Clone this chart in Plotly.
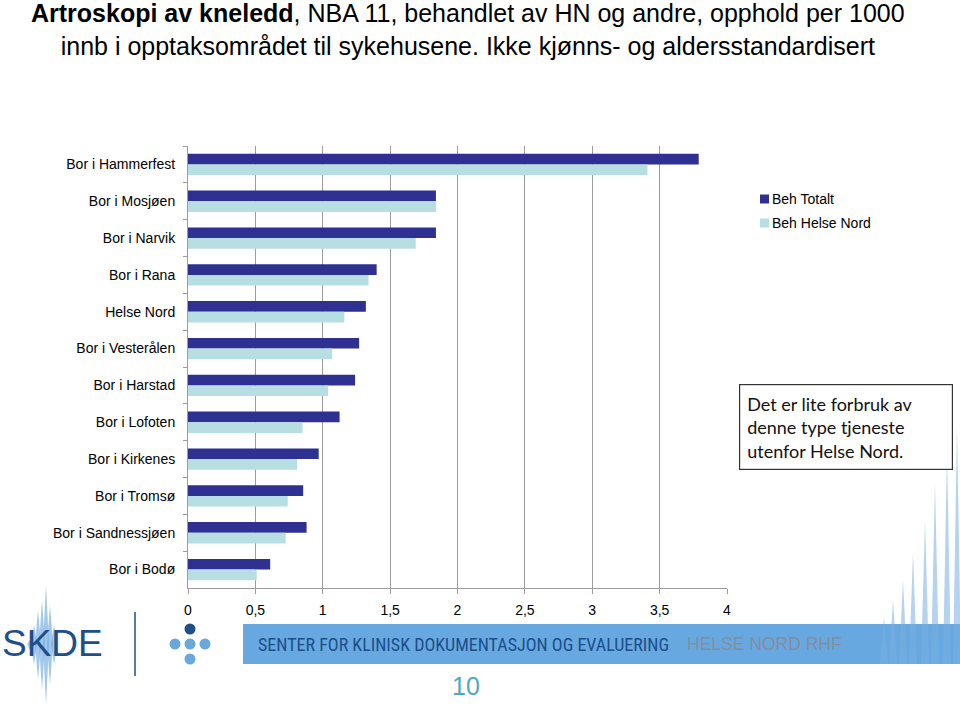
import plotly.graph_objects as go

categories = ["Bor i Hammerfest", "Bor i Mosjøen", "Bor i Narvik", "Bor i Rana", "Helse Nord",
              "Bor i Vesterålen", "Bor i Harstad", "Bor i Lofoten", "Bor i Kirkenes", "Bor i Tromsø",
              "Bor i Sandnessjøen", "Bor i Bodø"]
beh_totalt = [3.79, 1.84, 1.84, 1.40, 1.32, 1.27, 1.24, 1.125, 0.97, 0.855, 0.88, 0.61]
beh_helse_nord = [3.41, 1.84, 1.69, 1.34, 1.16, 1.07, 1.04, 0.85, 0.81, 0.74, 0.725, 0.51]
x_tickvals = [0, 0.5, 1, 1.5, 2, 2.5, 3, 3.5, 4]
x_ticktext = ["0", "0,5", "1", "1,5", "2", "2,5", "3", "3,5", "4"]
series_names = ["Beh Totalt", "Beh Helse Nord"]
series_colors = ["#2E3192", "#B7DEE3"]

W, H = 960, 707
L, R, T, B = 188, 727, 146, 588   # plot area in screen pixels

def px(x):
    return (x - L) / (R - L)

def py(y):
    return (B - y) / (B - T)

ARIAL = "Liberation Sans, Arial, sans-serif"

fig = go.Figure()
for name, vals, col in zip(series_names, [beh_totalt, beh_helse_nord], series_colors):
    fig.add_trace(go.Bar(y=categories, x=vals, orientation="h", name=name,
                         marker=dict(color=col, line=dict(width=0))))

shapes = []
annotations = []

# Title
annotations.append(dict(
    xref="paper", yref="paper", x=px(468), y=py(-3), xanchor="center", yanchor="top",
    text="<b>Artroskopi av kneledd</b>, NBA 11, behandlet av HN og andre, opphold per 1000<br>"
         "innb i opptaksområdet til sykehusene. Ikke kjønns- og aldersstandardisert",
    showarrow=False, font=dict(family=ARIAL, size=25, color="#000000"), align="center"))

# Manual legend
for i, (name, col) in enumerate(zip(series_names, series_colors)):
    yc = 199 + 24 * i
    shapes.append(dict(type="rect", xref="paper", yref="paper", x0=px(760), x1=px(769),
                       y0=py(yc + 4.5), y1=py(yc - 4.5), fillcolor=col, line=dict(width=0)))
    annotations.append(dict(xref="paper", yref="paper", x=px(770), y=py(yc), xanchor="left",
                            yanchor="middle", showarrow=False, text=name,
                            font=dict(family=ARIAL, size=14, color="#000000")))

# Text box
annotations.append(dict(
    xref="paper", yref="paper", x=px(739), y=py(384), xanchor="left", yanchor="top",
    text="Det er lite forbruk av<br>denne type tjeneste<br>utenfor Helse Nord.",
    showarrow=False, align="left", width=198, height=70, valign="middle",
    bordercolor="#333333", borderwidth=1.2, borderpad=7, bgcolor="white",
    font=dict(family="Lato, Open Sans, sans-serif", size=18, color="#111111")))

# Footer band
shapes.append(dict(type="rect", xref="paper", yref="paper", x0=px(243), x1=px(962),
                   y0=py(664), y1=py(624), fillcolor="#68A8E0", line=dict(width=0), layer="below"))
annotations.append(dict(xref="paper", yref="paper", x=px(256), y=py(644), xanchor="left",
                        yanchor="middle", showarrow=False,
                        text="SENTER FOR KLINISK DOKUMENTASJON OG EVALUERING",
                        font=dict(family="Liberation Sans Narrow, Roboto Condensed, Liberation Sans, sans-serif",
                                  size=18, color="#1B4F8A")))
annotations.append(dict(xref="paper", yref="paper", x=px(685), y=py(644), xanchor="left",
                        yanchor="middle", showarrow=False, text="HELSE NORD RHF",
                        font=dict(family=ARIAL, size=17.5, color="#848E9B")))

# Right decorative spikes
spikes = [(884, 617), (893, 600), (903, 580), (913, 553), (925, 520), (935, 483), (947, 453), (957, 427)]
for sx, tip in spikes:
    path = "M {} {} L {} {} L {} {} Z".format(px(sx - 4), py(664), px(sx), py(tip), px(sx + 4), py(664))
    shapes.append(dict(type="path", xref="paper", yref="paper", path=path,
                       fillcolor="rgba(120,175,225,0.55)", line=dict(width=0), layer="below"))

# SKDE logo spikes
logo_spikes = [(30, 640, 650), (34, 625, 665), (38, 610, 680), (42, 600, 690), (46, 585, 705), (50, 605, 685), (54, 625, 665)]
for sx, top, bot in logo_spikes:
    for tipy in (top, bot):
        path = "M {} {} L {} {} L {} {} Z".format(px(sx - 3), py(644), px(sx), py(tipy), px(sx + 3), py(644))
        shapes.append(dict(type="path", xref="paper", yref="paper", path=path,
                           fillcolor="rgba(100,165,220,0.6)", line=dict(width=0), layer="below"))
annotations.append(dict(xref="paper", yref="paper", x=px(0), y=py(643), xanchor="left",
                        yanchor="middle", showarrow=False, text="SKDE",
                        font=dict(family=ARIAL, size=37, color="#1F4E89")))
shapes.append(dict(type="line", xref="paper", yref="paper", x0=px(135), x1=px(135),
                   y0=py(612), y1=py(676), line=dict(color="#1F4E89", width=1.5)))
dots = [(190, 629, "#1F4E89"), (175, 644, "#6AA8DC"), (190, 644, "#6AA8DC"),
        (205, 644, "#6AA8DC"), (190, 659, "#6AA8DC")]
for dx, dy, c in dots:
    shapes.append(dict(type="circle", xref="paper", yref="paper", x0=px(dx - 5.5), x1=px(dx + 5.5),
                       y0=py(dy + 5.5), y1=py(dy - 5.5), fillcolor=c, line=dict(width=0)))

annotations.append(dict(xref="paper", yref="paper", x=px(466), y=py(686), xanchor="center",
                        yanchor="middle", showarrow=False, text="10",
                        font=dict(family=ARIAL, size=25, color="#4FA8BF")))

fig.update_layout(
    width=W, height=H,
    margin=dict(l=L, r=W - R, t=T, b=H - B, pad=0),
    paper_bgcolor="white", plot_bgcolor="white",
    barmode="group", bargap=0.42, bargroupgap=0,
    font=dict(family=ARIAL, size=14, color="#000000"),
    showlegend=False,
    xaxis=dict(range=[0, 4], tickvals=x_tickvals, ticktext=x_ticktext,
               showgrid=True, gridcolor="#9C9C9C", gridwidth=1,
               showline=True, linecolor="#9C9C9C", linewidth=1,
               ticks="outside", ticklen=5, tickcolor="#9C9C9C",
               zeroline=False, tickfont=dict(size=14, family=ARIAL, color="#000"),
               ticklabelstandoff=4),
    yaxis=dict(autorange="reversed", showline=True, linecolor="#9C9C9C", linewidth=1,
               ticks="outside", ticklen=4, tickcolor="#9C9C9C", tickson="boundaries",
               showgrid=False, tickfont=dict(size=14, family=ARIAL, color="#000"),
               ticklabelstandoff=9),
    shapes=shapes, annotations=annotations,
)

# remove the page's default 8px body margin so the figure fills the window exactly
fig.write_html("out.html", config={"displayModeBar": False},
               post_script="document.body.style.margin='0';document.body.style.overflow='hidden';")
